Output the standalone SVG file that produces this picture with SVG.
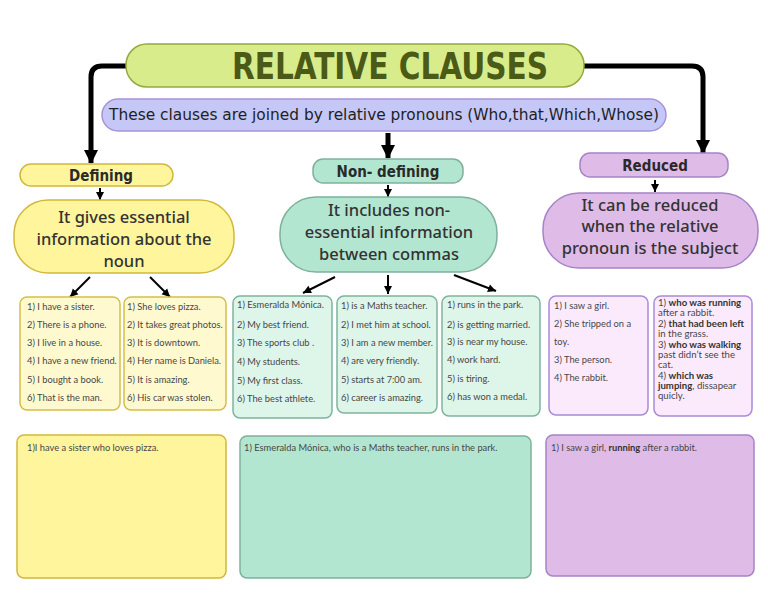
<svg xmlns="http://www.w3.org/2000/svg" width="768" height="593" viewBox="0 0 768 593">
<defs>
<marker id="bh" markerUnits="userSpaceOnUse" markerWidth="16" markerHeight="16" refX="14" refY="8" orient="auto" viewBox="0 0 16 16">
<path d="M1,1 L15,8 L1,15 Z" fill="#000"/>
</marker>
<marker id="sh" markerUnits="userSpaceOnUse" markerWidth="10" markerHeight="10" refX="9" refY="5" orient="auto" viewBox="0 0 10 10">
<path d="M1,1 L9,5 L1,9 Z" fill="#000"/>
</marker>
<style>
.hand{font-family:"DejaVu Sans Condensed","DejaVu Sans",sans-serif;fill:#222;}
.hd{font-size:15px;font-weight:bold;text-anchor:middle;fill:#2a2a2a;}
.big{font-family:"Noto Sans","Open Sans",sans-serif;font-size:16.5px;font-weight:500;fill:#333;text-anchor:middle;}
.sm{font-family:Lato,"Noto Sans",sans-serif;font-size:9.3px;fill:#474747;}
.sm2{font-family:Lato,"Noto Sans",sans-serif;font-size:9.6px;fill:#474747;}
.b{font-weight:bold;fill:#333;}
.y{fill:#fff59c;stroke:#d2b83c;stroke-width:1.5;}
.yl{fill:#fff9cf;stroke:#d6be4a;stroke-width:1.5;}
.g{fill:#b2e6d0;stroke:#80b09c;stroke-width:1.5;}
.gl{fill:#def5ea;stroke:#7fb49e;stroke-width:1.5;}
.p{fill:#dfbbe7;stroke:#a783c8;stroke-width:1.5;}
.pl{fill:#fbeafc;stroke:#a98bd6;stroke-width:1.5;}
.con{fill:none;stroke:#000;}
</style>
</defs>
<g id="connectors">
<path class="con" d="M126,66 H102 Q91,66 91,77 V163" stroke-width="5" marker-end="url(#bh)"/>
<path class="con" d="M584,66 H692 Q703,66 703,77 V153" stroke-width="5" marker-end="url(#bh)"/>
<path class="con" d="M388,133 V158" stroke-width="5" marker-end="url(#bh)"/>
<path class="con" d="M100,188 V200" stroke-width="2" marker-end="url(#sh)"/>
<path class="con" d="M388,185 V197" stroke-width="2" marker-end="url(#sh)"/>
<path class="con" d="M655,180 V192" stroke-width="2" marker-end="url(#sh)"/>
<path class="con" d="M90,277 L70,297" stroke-width="2" marker-end="url(#sh)"/>
<path class="con" d="M150,277 L170,297" stroke-width="2" marker-end="url(#sh)"/>
<path class="con" d="M335,277 L303,293" stroke-width="2" marker-end="url(#sh)"/>
<path class="con" d="M388,275 V294" stroke-width="2" marker-end="url(#sh)"/>
<path class="con" d="M454,275 L496,291" stroke-width="2" marker-end="url(#sh)"/>
</g>
<g id="title">
<rect x="126" y="44" width="458" height="43" rx="21" fill="#d9ec8c" stroke="#93aa3c" stroke-width="1.5"/>
<text x="390" y="79" class="hand" style="font-size:38px;font-weight:bold;fill:#4b5a16;text-anchor:middle" textLength="316" lengthAdjust="spacingAndGlyphs">RELATIVE CLAUSES</text>
</g>
<g id="subtitle">
<rect x="102" y="99" width="564" height="32" rx="16" fill="#c5c8f7" stroke="#a993d8" stroke-width="1.5"/>
<text x="384" y="120" class="hand" style="font-size:15px;text-anchor:middle" textLength="550" lengthAdjust="spacingAndGlyphs">These clauses are joined by relative pronouns (Who,that,Which,Whose)</text>
</g>
<g id="defining">
<rect class="y" x="20" y="164" width="153" height="22" rx="11"/>
<text x="101" y="181" class="hand hd">Defining</text>
</g>
<g id="defining-desc">
<rect class="y" x="14" y="200" width="220" height="73" rx="34"/>
<text class="big" x="124" y="223">It gives essential</text>
<text class="big" x="124" y="245">information about the</text>
<text class="big" x="124" y="267">noun</text>
</g>
<g id="def-list1">
<rect class="yl" x="20" y="297" width="100" height="113" rx="7"/>
<text class="sm" x="27" y="310">1) I have a sister.</text>
<text class="sm" x="27" y="328">2) There is a phone.</text>
<text class="sm" x="27" y="346">3) I live in a house.</text>
<text class="sm" x="27" y="364">4) I have a new friend.</text>
<text class="sm" x="27" y="383">5) I bought a book.</text>
<text class="sm" x="27" y="401">6) That is the man.</text>
</g>
<g id="def-list2">
<rect class="yl" x="124" y="297" width="102" height="113" rx="7"/>
<text class="sm" x="127" y="310">1) She loves pizza.</text>
<text class="sm" x="127" y="328">2) It takes great photos.</text>
<text class="sm" x="127" y="346">3) It is downtown.</text>
<text class="sm" x="127" y="364">4) Her name is Daniela.</text>
<text class="sm" x="127" y="383">5) It is amazing.</text>
<text class="sm" x="127" y="401">6) His car was stolen.</text>
</g>
<g id="nondefining">
<rect class="g" x="313" y="159" width="150" height="24" rx="10"/>
<text x="388" y="177" class="hand hd">Non- defining</text>
</g>
<g id="nondefining-desc">
<rect class="g" x="280" y="197" width="217" height="75" rx="36"/>
<text class="big" x="389" y="216">It includes non-</text>
<text class="big" x="389" y="238">essential information</text>
<text class="big" x="389" y="260">between commas</text>
</g>
<g id="nd-list1">
<rect class="gl" x="233" y="296" width="99" height="122" rx="7"/>
<text class="sm" x="237" y="308">1) Esmeralda Mónica.</text>
<text class="sm" x="237" y="328">2) My best friend.</text>
<text class="sm" x="237" y="346">3) The sports club .</text>
<text class="sm" x="237" y="365">4) My students.</text>
<text class="sm" x="237" y="384">5) My first class.</text>
<text class="sm" x="237" y="402">6) The best athlete.</text>
</g>
<g id="nd-list2">
<rect class="gl" x="337" y="296" width="100" height="117" rx="7"/>
<text class="sm" x="341" y="309">1) is a Maths teacher.</text>
<text class="sm" x="341" y="328">2) I met him at school.</text>
<text class="sm" x="341" y="346">3) I am a new member.</text>
<text class="sm" x="341" y="364">4) are very friendly.</text>
<text class="sm" x="341" y="383">5) starts at 7:00 am.</text>
<text class="sm" x="341" y="401">6) career is amazing.</text>
</g>
<g id="nd-list3">
<rect class="gl" x="442" y="296" width="98" height="120" rx="7"/>
<text class="sm" x="447" y="308">1) runs in the park.</text>
<text class="sm" x="447" y="328">2) is getting married.</text>
<text class="sm" x="447" y="345">3) is near my house.</text>
<text class="sm" x="447" y="363">4) work hard.</text>
<text class="sm" x="447" y="382">5) is tiring.</text>
<text class="sm" x="447" y="400">6) has won a medal.</text>
</g>
<g id="reduced">
<rect class="p" x="580" y="153" width="148" height="24" rx="10"/>
<text x="655" y="171" class="hand hd">Reduced</text>
</g>
<g id="reduced-desc">
<rect class="p" x="543" y="193" width="215" height="75" rx="36"/>
<text class="big" x="650" y="211">It can be reduced</text>
<text class="big" x="650" y="232">when the relative</text>
<text class="big" x="650" y="254">pronoun is the subject</text>
</g>
<g id="red-list1">
<rect class="pl" x="549" y="296" width="99" height="119" rx="7"/>
<text class="sm" x="554" y="309">1) I saw a girl.</text>
<text class="sm" x="554" y="327">2) She tripped on a</text>
<text class="sm" x="554" y="345">toy.</text>
<text class="sm" x="554" y="363">3) The person.</text>
<text class="sm" x="554" y="381">4) The rabbit.</text>
</g>
<g id="red-list2">
<rect class="pl" x="654" y="296" width="98" height="120" rx="7"/>
<text class="sm2" x="658" y="306">1) <tspan class="b">who was running</tspan></text>
<text class="sm2" x="658" y="316">after a rabbit.</text>
<text class="sm2" x="658" y="327">2) <tspan class="b">that had been left</tspan></text>
<text class="sm2" x="658" y="337">in the grass.</text>
<text class="sm2" x="658" y="348">3) <tspan class="b">who was walking</tspan></text>
<text class="sm2" x="658" y="358">past didn’t see the</text>
<text class="sm2" x="658" y="368">cat.</text>
<text class="sm2" x="658" y="379">4) <tspan class="b">which was</tspan></text>
<text class="sm2" x="658" y="389"><tspan class="b">jumping</tspan>, dissapear</text>
<text class="sm2" x="658" y="399">quicly.</text>
</g>
<g id="ex-defining">
<rect class="y" x="17" y="435" width="209" height="143" rx="7"/>
<text class="sm" x="27" y="451">1)I have a sister who loves pizza.</text>
</g>
<g id="ex-nondefining">
<rect class="g" x="240" y="436" width="291" height="142" rx="7"/>
<text class="sm" x="244" y="451">1) Esmeralda Mónica, who is a Maths teacher, runs in the park.</text>
</g>
<g id="ex-reduced">
<rect class="p" x="546" y="435" width="208" height="141" rx="7"/>
<text class="sm" x="551" y="451">1) I saw a girl, <tspan class="b">running</tspan> after a rabbit.</text>
</g>
</svg>
